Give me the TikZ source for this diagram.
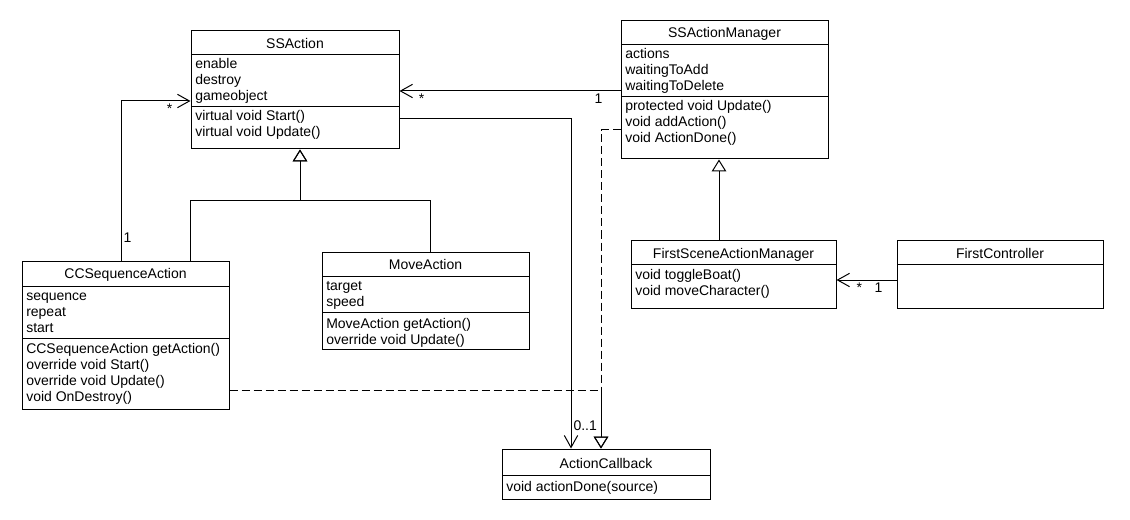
\documentclass[tikz,border=0pt]{standalone}
\usepackage{fontspec}
\setmainfont{Liberation Sans}
\usetikzlibrary{arrows.meta,calc,fit}
\tikzset{
  cls/.style={draw, inner sep=0pt, line width=0.75pt},
  ttl/.style={anchor=base, inner sep=0pt, font=\fontsize{10.5}{12}\selectfont},
  mem/.style={anchor=base west, inner sep=0pt, align=left, font=\fontsize{10.5}{12}\selectfont},
  lbl/.style={inner sep=1.5pt, font=\fontsize{10.5}{12}\selectfont},
  ln/.style={line width=0.75pt},
  assoc/.style={ln, -{Straight Barb[length=9pt,width=10pt]}},
  gen/.style={ln, -{Triangle[open,length=9pt,width=11pt]}},
  real/.style={gen, dash pattern=on 6pt off 3pt},
}
\begin{document}
\begin{tikzpicture}[x=0.75pt, y=-0.75pt]
\fill[white] (0,0) rectangle (1130,520);
\useasboundingbox (0,0) rectangle (1130,520);

% SSAction
\node[cls, fit={(191,31)(399,149)}] (ssa) {};
\node[ttl] (ssa-t) at (295,48.5) {SSAction};
\draw[ln] (191,55) -- (399,55) (191,107) -- (399,107);
\node[mem] (ssa-a) at (195,101) {enable\\destroy\\gameobject};
\node[mem] (ssa-m) at (195,137) {virtual void Start()\\virtual void Update()};

% SSActionManager
\node[cls, fit={(621,21)(828,159)}] (ssam) {};
\node[ttl] (ssam-t) at (724.5,38) {SSActionManager};
\draw[ln] (621,45) -- (828,45) (621,97) -- (828,97);
\node[mem] (ssam-a) at (625,91) {actions\\waitingToAdd\\waitingToDelete};
\node[mem] (ssam-m) at (625,143) {protected void Update()\\void addAction()\\void ActionDone()};

% CCSequenceAction
\node[cls, fit={(22,261)(229,409)}] (ccs) {};
\node[ttl] (ccs-t) at (125.5,278) {CCSequenceAction};
\draw[ln] (22,286) -- (229,286) (22,338) -- (229,338);
\node[mem] (ccs-a) at (26,332) {sequence\\repeat\\start};
\node[mem] (ccs-m) at (26,401) {CCSequenceAction getAction()\\override void Start()\\override void Update()\\void OnDestroy()};

% MoveAction
\node[cls, fit={(322,252)(529,349)}] (mov) {};
\node[ttl] (mov-t) at (425.5,269) {MoveAction};
\draw[ln] (322,276) -- (529,276) (322,312) -- (529,312);
\node[mem] (mov-a) at (326,306) {target\\speed};
\node[mem] (mov-m) at (326,344) {MoveAction getAction()\\override void Update()};

% ActionCallback
\node[cls, fit={(502,449)(710,499)}] (acb) {};
\node[ttl] (acb-t) at (606,468) {ActionCallback};
\draw[ln] (502,475) -- (710,475);
\node[mem] (acb-m) at (506,491) {void actionDone(source)};

% FirstSceneActionManager
\node[cls, fit={(631,240)(836,308)}] (fsam) {};
\node[ttl] (fsam-t) at (733.5,258) {FirstSceneActionManager};
\draw[ln] (631,264) -- (836,264);
\node[mem] (fsam-m) at (635,295) {void toggleBoat()\\void moveCharacter()};

% FirstController
\node[cls, fit={(897,240)(1103,308)}] (fc) {};
\node[ttl] (fc-t) at (1000,258) {FirstController};
\draw[ln] (897,264) -- (1103,264);

% associations
\draw[assoc] ($(ssam.west)+(0,1)$) -- node[lbl, pos=0.1, below] {1} node[lbl, pos=0.9, below] {*} ($(ssa.east)+(0,1)$);
\draw[assoc] ($(ccs.north)+(-4.5,0)$) |- node[lbl, pos=0.07, right] {1} node[lbl, pos=0.85, below] {*} ($(ssa.west)+(0,11)$);
\draw[assoc] ($(ssa.east)+(0,29)$) -| node[lbl, pos=0.965, right] {0..1} ($(acb.north)+(-35,0)$);
\draw[assoc] ($(fc.west)+(0,6)$) -- node[lbl, pos=0.3, below] {1} node[lbl, pos=0.62, below] {*} ($(fsam.east)+(0,6)$);

% generalizations
\coordinate (gj) at (300,201);
\draw[gen] ($(ccs.north)+(64.5,0)$) |- (gj) -- ($(ssa.south)+(5,0)$);
\draw[gen] ($(mov.north)+(5,0)$) |- (gj) -- ($(ssa.south)+(5,0)$);
\draw[gen] (fsam.north -| 719,0) -- (ssam.south -| 719,0);

% realizations
\draw[real] ($(ssam.west)+(0,40)$) -| ($(acb.north)+(-5,0)$);
\draw[real] ($(ccs.east)+(0,55)$) -| ($(acb.north)+(-5,0)$);
\end{tikzpicture}
\end{document}
